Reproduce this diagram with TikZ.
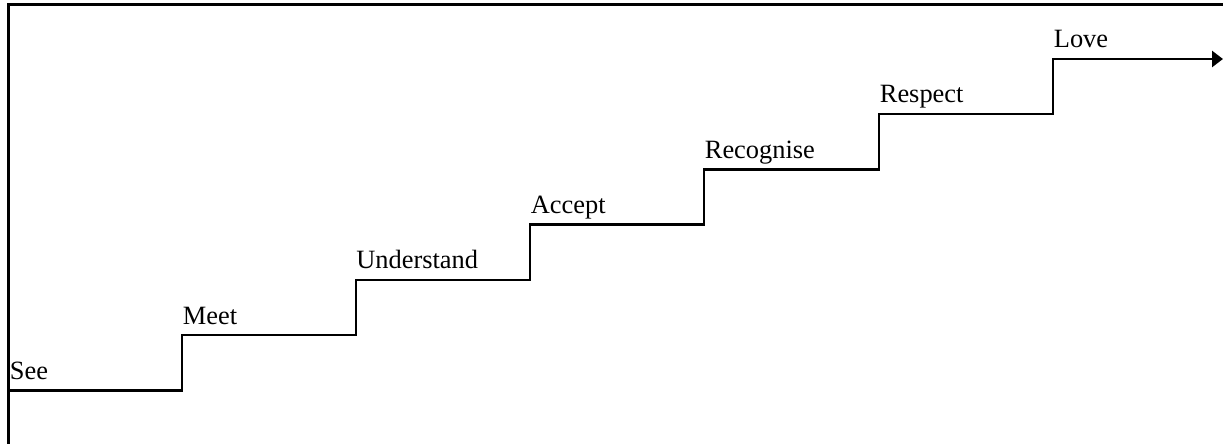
\documentclass[tikz,border=0pt]{standalone}
\usepackage{fontspec}
\setmainfont{Liberation Serif}
\usetikzlibrary{arrows.meta}
\tikzstyle{frame} = [line width=1.5pt, line cap=rect]
\tikzstyle{stair} = [line width=1.4pt, -{Triangle[length=5.5pt,width=8pt]}]
\tikzstyle{level} = [anchor=base west, inner sep=0pt, font=\fontsize{13.2}{15}\selectfont]

\begin{document}
\begin{tikzpicture}[x=0.5pt, y=-0.5pt]

\useasboundingbox (0,0) rectangle (1223,444);

% Frame
\coordinate (frame_bl) at (8.5,446);
\coordinate (frame_tr) at (1225,4.5);
\draw [frame] (frame_bl) |- (frame_tr);

% Steps
\coordinate (see) at (8.5,390.5);
\coordinate (meet) at (182,335);
\coordinate (understand) at (356,280);
\coordinate (accept) at (530,224.5);
\coordinate (recognise) at (704,169.5);
\coordinate (respect) at (879,114);
\coordinate (love) at (1053,59);
\coordinate (stop) at (1223,59);

% Labels
\node (see_lbl) [level] at (9.5,379.5) {See};
\node (meet_lbl) [level] at (182.5,324) {Meet};
\node (understand_lbl) [level] at (356,269) {Understand};
\node (accept_lbl) [level] at (530.5,213.5) {Accept};
\node (recognise_lbl) [level] at (704.5,158.5) {Recognise};
\node (respect_lbl) [level] at (879.5,103) {Respect};
\node (love_lbl) [level] at (1053.5,48) {Love};

% Staircase
\draw [stair] (see) -| (meet) -| (understand) -| (accept) -| (recognise) -| (respect) -| (love) -- (stop);

\end{tikzpicture}
\end{document}
